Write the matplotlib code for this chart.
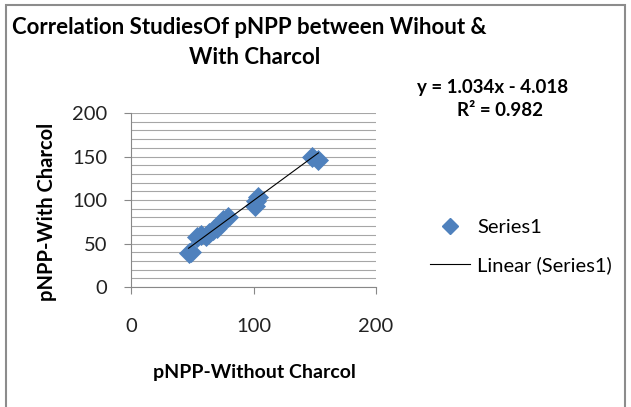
import numpy as np
import matplotlib.pyplot as plt
from matplotlib.patches import Rectangle
from matplotlib.lines import Line2D

plt.rcParams['font.family'] = ['Lato', 'DejaVu Sans']

# pNPP readings
without_charcol = [47, 49, 54, 57, 61, 64, 67, 70, 73, 75, 79, 101, 102, 104, 148, 153]
with_charcol = [39, 40, 57, 60, 59, 62, 65, 68, 72, 77, 81, 93, 99, 104, 150, 146]

slope = 1.034
intercept = -4.018
r2 = 0.982

fig = plt.figure(figsize=(6.31, 4.07), dpi=100)
ax = fig.add_axes([0.2076, 0.2948, 0.3883, 0.4275])

# outer chart border
fig.patches.append(Rectangle((6/631, -0.2), 619/631, 1.2 - 5/407, transform=fig.transFigure,
                             fill=False, edgecolor='#8c8c8c', linewidth=1.5))

ax.scatter(without_charcol, with_charcol, marker='D', s=115, color='#4f81bd', linewidths=0, zorder=3)
xl = np.array([min(without_charcol), max(without_charcol)])
ax.plot(xl, slope*xl + intercept, color='black', linewidth=0.8, zorder=4)

ax.set_xlim(0, 200)
ax.set_ylim(0, 200)
ax.set_xticks([0, 100, 200])
ax.set_yticks([0, 50, 100, 150, 200])
ax.set_yticks(np.arange(0, 201, 10), minor=True)
ax.yaxis.grid(True, which='both', color='#a6a6a6', linewidth=0.8)
ax.set_axisbelow(True)
ax.tick_params(axis='both', which='major', labelsize=14.5, labelcolor='#222222',
               color='#888888', length=5, width=0.8, pad=12)
ax.tick_params(axis='x', pad=17)
ax.tick_params(axis='y', which='minor', length=0)
ax.spines['top'].set_visible(False)
ax.spines['right'].set_visible(False)
ax.spines['left'].set_color('#888888')
ax.spines['bottom'].set_color('#888888')

ax.set_xlabel('pNPP-Without Charcol', fontsize=14, fontweight='bold', va='center', ha='center')
ax.set_ylabel('pNPP-With Charcol', fontsize=14.5, fontweight='bold', va='center', ha='center')
ax.xaxis.set_label_coords(0.502, -0.489)
ax.yaxis.set_label_coords(-0.343, 0.43)

fig.text(12/631, 1 - 28/407, 'Correlation StudiesOf pNPP between Wihout &', fontsize=16,
         fontweight='bold', ha='left', va='center')
fig.text(255/631, 1 - 57/407, 'With Charcol', fontsize=16, fontweight='bold', ha='center', va='center')

fig.text(493/631, 1 - 87/407, 'y = 1.034x - 4.018', fontsize=13.5, fontweight='bold', ha='center', va='center')
fig.text(500/631, 1 - 110/407, 'R² = ' + str(r2), fontsize=13.5, fontweight='bold', ha='center', va='center')

handles = [Line2D([], [], marker='D', linestyle='none', color='#4f81bd', markersize=8),
           Line2D([], [], color='black', linewidth=0.8)]
fig.legend(handles, ['Series1', 'Linear (Series1)'], loc='upper left', bbox_to_anchor=(430/631, 1 - 219/407),
           frameon=False, fontsize=14.5, handlelength=2.0, handletextpad=0.35, labelspacing=1.0,
           borderpad=0, borderaxespad=0)

plt.savefig('out.png', dpi=100)
